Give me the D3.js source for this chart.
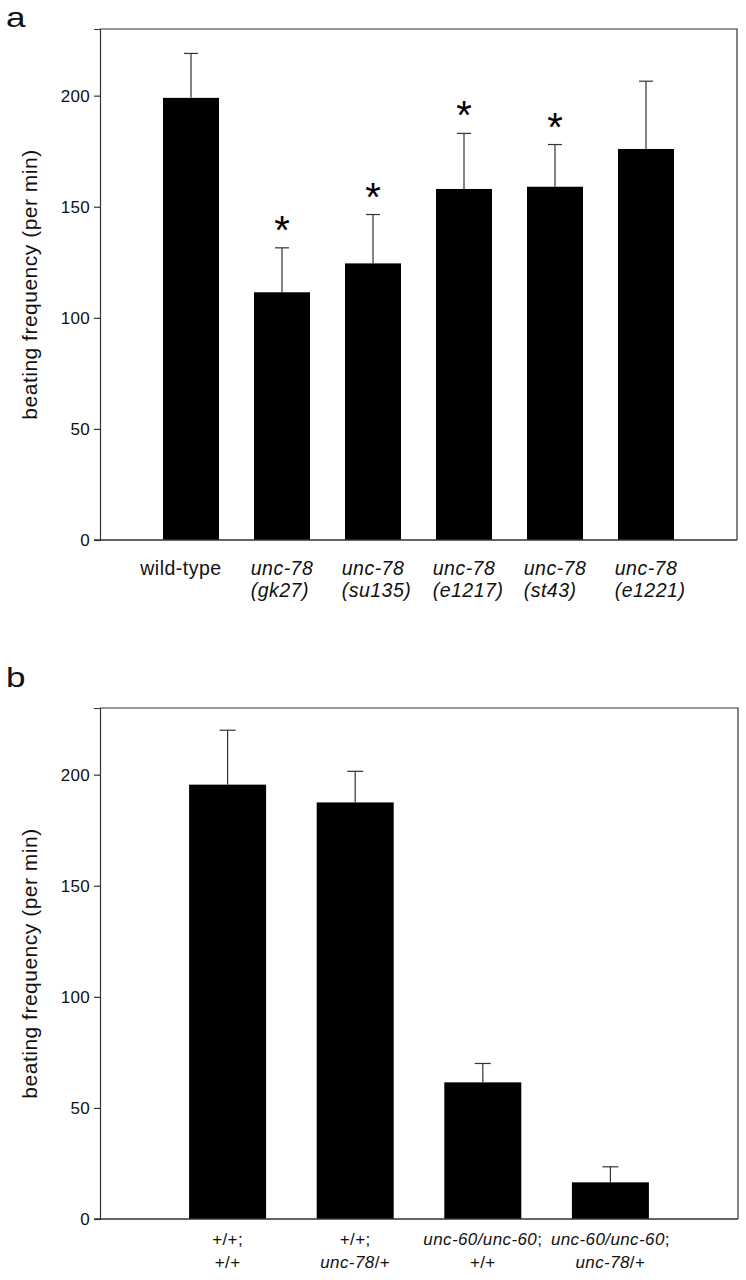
<!DOCTYPE html>
<html>
<head>
<meta charset="utf-8">
<script src="https://cdn.jsdelivr.net/npm/d3@7"></script>
<style>
  html, body { margin: 0; padding: 0; background: #fff; }
  svg { display: block; font-family: "Liberation Sans", Arial, sans-serif; }
</style>
</head>
<body>
<svg id="chart" width="746" height="1280"></svg>
<script>
// ---- Panel a data ----
const catsA = ["wild-type", "gk27", "su135", "e1217", "st43", "e1221"];
const labelsA1 = ["wild-type", "unc-78", "unc-78", "unc-78", "unc-78", "unc-78"];
const labelsA2 = ["", "(gk27)", "(su135)", "(e1217)", "(st43)", "(e1221)"];
const valuesA = [199, 111.5, 124.5, 158, 159, 176];
const errorsA = [20, 20, 22, 25, 19, 30.5];
const sigA = [false, true, true, true, true, false];

// ---- Panel b data ----
const catsB = ["wt;wt", "wt;unc78", "unc60;wt", "unc60;unc78"];
const labelsB1 = [["+/+;", false], ["+/+;", false], ["unc-60/unc-60", true, ";"], ["unc-60/unc-60", true, ";"]];
const labelsB2 = [["+/+", false, ""], ["unc-78", true, "/+"], ["+/+", false, ""], ["unc-78", true, "/+"]];
const valuesB = [195.5, 187.5, 61.5, 16.5];
const errorsB = [24.5, 14, 8.5, 7];
const sigB = [false, false, false, false];

const yTicks = [0, 50, 100, 150, 200];
const yMax = 230;
const yTitle = "beating frequency (per min)";

const FONT = "Liberation Sans, Arial, sans-serif";
const svg = d3.select("#chart");

function drawPanel(opt) {
  const g = svg.append("g");
  const x = d3.scalePoint().domain(opt.cats).range([opt.left, opt.right]).padding(1);
  const y = d3.scaleLinear().domain([0, yMax]).range([opt.bottom, opt.top]);

  // frame (top & right)
  g.append("path")
    .attr("d", `M${opt.left},${opt.top}H${opt.right}V${opt.bottom}`)
    .attr("fill", "none").attr("stroke", "#333").attr("stroke-width", 1.2);

  // bars
  g.selectAll("rect.bar").data(opt.values).join("rect")
    .attr("class", "bar")
    .attr("x", (d, i) => x(opt.cats[i]) - opt.barW / 2)
    .attr("width", opt.barW)
    .attr("y", d => y(d))
    .attr("height", d => y(0) - y(d))
    .attr("fill", "#000");

  // error bars
  const eb = g.selectAll("g.err").data(opt.values).join("g").attr("class", "err");
  eb.append("line")
    .attr("x1", (d, i) => x(opt.cats[i])).attr("x2", (d, i) => x(opt.cats[i]))
    .attr("y1", d => y(d)).attr("y2", (d, i) => y(d + opt.errors[i]))
    .attr("stroke", "#333").attr("stroke-width", 1.2);
  eb.append("line")
    .attr("x1", (d, i) => x(opt.cats[i]) - opt.capW / 2).attr("x2", (d, i) => x(opt.cats[i]) + opt.capW / 2)
    .attr("y1", (d, i) => y(d + opt.errors[i])).attr("y2", (d, i) => y(d + opt.errors[i]))
    .attr("stroke", "#333").attr("stroke-width", 1.2);

  // significance asterisks
  g.selectAll("text.sig").data(opt.values.map((v, i) => ({v, i})).filter(d => opt.sig[d.i])).join("text")
    .attr("class", "sig")
    .attr("x", d => x(opt.cats[d.i]))
    .attr("y", d => y(d.v + opt.errors[d.i]) - 4)
    .attr("text-anchor", "middle")
    .attr("font-size", 40)
    .attr("fill", "#000")
    .text("*");

  // y axis
  const yAxis = d3.axisLeft(y).tickValues(yTicks).tickSize(6).tickPadding(4);
  const ya = g.append("g").attr("transform", `translate(${opt.left},0)`).call(yAxis);
  ya.attr("font-family", FONT);
  ya.select(".domain").attr("stroke", "#333").attr("stroke-width", 1.2);
  ya.selectAll(".tick line").attr("stroke", "#333").attr("stroke-width", 1.2);
  ya.selectAll(".tick text").attr("font-size", 17).attr("letter-spacing", 0.3)
    .attr("fill", "#111");

  // baseline (x axis line)
  g.append("line")
    .attr("x1", opt.left - 6).attr("x2", opt.right)
    .attr("y1", y(0)).attr("y2", y(0))
    .attr("stroke", "#333").attr("stroke-width", 1.4);

  // y title
  g.append("text")
    .attr("transform", `translate(37,${(opt.top + opt.bottom) / 2}) rotate(-90)`)
    .attr("text-anchor", "middle")
    .attr("font-size", 21).attr("letter-spacing", 0.5)
    .attr("fill", "#111")
    .text(yTitle);

  // panel letter
  g.append("text")
    .attr("transform", `translate(6,${opt.letterY}) scale(1.3,1)`)
    .attr("font-size", 27)
    .attr("fill", "#111")
    .text(opt.letter);

  return {g, x, y};
}

// Panel a
const pa = drawPanel({
  cats: catsA, values: valuesA, errors: errorsA, sig: sigA,
  left: 100, right: 737, top: 29, bottom: 540,
  barW: 56, capW: 14, letter: "a", letterY: 27
});
catsA.forEach((c, i) => {
  const cx = pa.x(c);
  if (!labelsA2[i]) {
    pa.g.append("text").attr("x", cx - 10).attr("y", 575)
      .attr("text-anchor", "middle").attr("font-size", 19.5).attr("letter-spacing", 0.5)
      .attr("fill", "#111").text(labelsA1[i]);
  } else {
    const t1 = pa.g.append("text").attr("x", cx).attr("y", 575)
      .attr("text-anchor", "middle").attr("font-size", 19.5).attr("letter-spacing", 0.5)
      .attr("font-style", "italic").attr("fill", "#111").text(labelsA1[i]);
    const w = t1.node().getComputedTextLength();
    const lx = cx - w / 2;
    t1.attr("text-anchor", "start").attr("x", lx);
    pa.g.append("text").attr("x", lx).attr("y", 597)
      .attr("text-anchor", "start").attr("font-size", 19.5).attr("letter-spacing", 0.5)
      .attr("font-style", "italic").attr("fill", "#111").text(labelsA2[i]);
  }
});

// Panel b
const pb = drawPanel({
  cats: catsB, values: valuesB, errors: errorsB, sig: sigB,
  left: 100, right: 738, top: 708, bottom: 1219,
  barW: 77, capW: 16, letter: "b", letterY: 687
});
function richLabel(g, x, y, parts) {
  const t = g.append("text").attr("x", x).attr("y", y)
    .attr("text-anchor", "middle").attr("font-size", 17).attr("letter-spacing", 0.4)
    .attr("fill", "#111");
  t.append("tspan").attr("font-style", parts[1] ? "italic" : "normal").text(parts[0]);
  if (parts[2]) t.append("tspan").text(parts[2]);
}
catsB.forEach((c, i) => {
  const cx = pb.x(c);
  richLabel(pb.g, cx, 1245, labelsB1[i]);
  richLabel(pb.g, cx, 1268, labelsB2[i]);
});
</script>
</body>
</html>
